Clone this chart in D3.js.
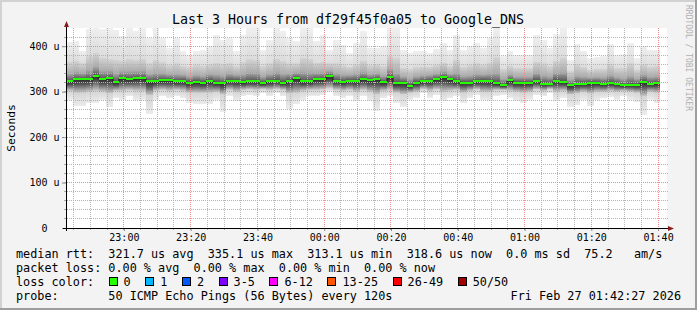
<!DOCTYPE html>
<html>
<head>
<meta charset="utf-8">
<script src="https://cdn.jsdelivr.net/npm/d3@7/dist/d3.min.js"></script>
<style>
html, body { margin: 0; padding: 0; background: #f3f3f3; overflow: hidden; }
svg { display: block; }
text { font-family: "DejaVu Sans Mono", monospace; fill: #000; }
</style>
</head>
<body>
<div id="chart"></div>
<script>
// one value per 120 s step, in microseconds
var medianRtt = [322.7, 327.1, 327.1, 327.1, 335.1, 327.1, 329.3, 320.5, 329.3, 327.1, 329.3, 329.3, 322.7, 322.7, 324.9, 324.9, 322.7, 324.2, 319.8, 322.0, 319.8, 324.2, 319.8,
    318.3, 324.2, 324.2, 320.5, 322.7, 322.7, 318.3, 322.7, 324.2, 319.8, 324.2, 329.3, 322.7, 322.7, 327.1, 327.1, 333.7, 324.2, 322.0, 324.2, 324.2, 327.1,
    324.9, 327.1, 320.5, 331.5, 318.3, 319.8, 313.1, 319.8, 322.7, 324.2, 327.1, 331.5, 327.1, 322.7, 319.8, 319.8, 322.7, 324.2, 322.7, 318.3, 313.9, 324.9, 319.8,
    319.8, 319.8, 324.2, 317.6, 317.6, 324.2, 322.0, 313.9, 317.6, 317.6, 319.8, 319.8, 317.6, 319.8, 317.6, 313.9, 315.4, 315.4, 322.0, 317.6, 318.6];
var pingMax = [409, 411, 389, 438, 440, 438, 441, 436, 422, 440, 434, 440, 419, 441, 418, 396, 417, 389, 381, 389, 392, 400, 425,
    414, 418, 389, 425, 441, 441, 392, 414, 440, 433, 418, 411, 441, 440, 411, 425, 392, 414, 403, 385, 407, 433,
    397, 396, 400, 441, 441, 392, 385, 390, 389, 385, 394, 407, 392, 425, 392, 400, 407, 396, 418, 441, 378, 390, 381,
    381, 381, 424, 414, 396, 427, 441, 370, 405, 390, 374, 376, 378, 405, 381, 383, 407, 374, 400, 392, 392];
var pingHi = [365, 368, 362, 378, 385, 375, 372, 370, 368, 372, 370, 372, 362, 370, 365, 358, 362, 356, 354, 358, 356, 360, 364,
    360, 362, 356, 365, 372, 370, 356, 362, 372, 368, 362, 362, 375, 372, 364, 366, 362, 362, 358, 355, 360, 368,
    358, 360, 356, 378, 374, 352, 350, 354, 355, 355, 358, 364, 356, 370, 355, 358, 362, 358, 364, 376, 350, 356, 352,
    352, 352, 366, 362, 356, 368, 375, 345, 360, 355, 348, 350, 350, 360, 352, 352, 362, 348, 360, 355, 356];
var pingLo = [302, 298, 298, 300, 302, 300, 296, 302, 302, 304, 302, 302, 292, 302, 304, 302, 304, 302, 298, 298, 298, 298, 300,
    294, 304, 300, 304, 305, 304, 306, 304, 306, 304, 296, 298, 302, 304, 304, 305, 308, 304, 302, 304, 300, 304,
    300, 294, 302, 304, 298, 294, 298, 300, 306, 302, 305, 300, 302, 304, 298, 302, 305, 300, 300, 304, 304, 302, 300,
    298, 300, 305, 302, 306, 300, 302, 294, 296, 300, 296, 300, 300, 302, 300, 302, 300, 298, 290, 300, 298];
var pingMin = [282, 268, 268, 275, 275, 282, 266, 286, 282, 290, 282, 282, 250, 282, 290, 286, 290, 286, 275, 272, 272, 273, 282,
    255, 290, 279, 290, 293, 290, 297, 290, 297, 290, 261, 272, 282, 290, 290, 293, 301, 290, 286, 290, 279, 290,
    279, 258, 286, 290, 275, 266, 282, 286, 297, 286, 293, 279, 286, 290, 275, 286, 293, 282, 279, 290, 293, 286, 280,
    275, 282, 293, 290, 297, 280, 286, 266, 270, 282, 268, 282, 285, 288, 282, 290, 282, 277, 248, 282, 275];

var yTicks = [0, 100, 200, 300, 400];
var lossLabels = ["0", "1", "2", "3-5", "6-12", "13-25", "26-49", "50/50"];
var lossColors = ["#26ff00", "#00b8ff", "#0059ff", "#7e00ff", "#ff00ff", "#ff5500", "#ff0000", "#a10000"];
var legendLines = [
    "median rtt:  321.7 us avg  335.1 us max  313.1 us min  318.6 us now  0.0 ms sd  75.2   am/s",
    "packet loss: 0.00 % avg  0.00 % max  0.00 % min  0.00 % now"
];

var width = 697, height = 310;
var plot = {left: 66, right: 667, top: 28, bottom: 228};

var t0 = new Date(2026, 1, 26, 22, 42, 40),
    t1 = new Date(2026, 1, 27, 1, 42, 40),
    step = 120 * 1000;
var times = medianRtt.map((d, i) => new Date(t0.getTime() + i * step));

var svg = d3.select("#chart").append("svg")
    .attr("width", width)
    .attr("height", height);

// frame
svg.append("rect").attr("width", width).attr("height", height).attr("fill", "#f3f3f3");
svg.append("rect").attr("width", width).attr("height", 2).attr("fill", "#d2d2d2");
svg.append("rect").attr("width", 2).attr("height", height).attr("fill", "#d2d2d2");
svg.append("rect").attr("x", width - 2).attr("width", 2).attr("height", height).attr("fill", "#9e9e9e");
svg.append("rect").attr("y", height - 2).attr("width", width).attr("height", 2).attr("fill", "#9e9e9e");

var x = d3.scaleTime().domain([t0, t1]).range([plot.left, plot.right]);
var y = d3.scaleLinear().domain([0, 440]).range([plot.bottom, plot.top]).clamp(true);

svg.append("rect")
    .attr("x", plot.left).attr("y", plot.top)
    .attr("width", plot.right - plot.left).attr("height", plot.bottom - plot.top)
    .attr("fill", "#fff");

var defs = svg.append("defs");
function grad(id, stops) {
    var g = defs.append("linearGradient").attr("id", id)
        .attr("x1", 0).attr("y1", 0).attr("x2", 0).attr("y2", 1);
    stops.forEach((s) => {
        g.append("stop").attr("offset", s[0]).attr("stop-color", s[1]);
    });
}
grad("tailUp", [[0, "#efefef"], [1, "#dcdcdc"]]);
grad("coreUp", [[0, "#d4d4d4"], [0.6, "#ababab"], [1, "#505050"]]);
grad("coreDown", [[0, "#2a2a2a"], [0.35, "#525252"], [1, "#cacaca"]]);
grad("tailDown", [[0, "#d4d4d4"], [1, "#ececec"]]);

// smoke
var smoke = svg.append("g").attr("shape-rendering", "crispEdges");
var bands = [
    [pingMax, pingHi, "tailUp"],
    [pingHi, medianRtt, "coreUp"],
    [medianRtt, pingLo, "coreDown"],
    [pingLo, pingMin, "tailDown"]
];
times.forEach((t, i) => {
    var x0 = Math.round(x(t)),
        x1 = Math.round(x(new Date(t.getTime() + step)));
    bands.forEach((b) => {
        var top = y(b[0][i]), bot = y(b[1][i]);
        smoke.append("rect")
            .attr("x", x0).attr("y", top)
            .attr("width", x1 - x0).attr("height", Math.max(0, bot - top))
            .attr("fill", "url(#" + b[2] + ")");
    });
});

// grid, on top of the smoke
var grid = svg.append("g");
var minorTimes = x.ticks(d3.timeMinute.every(5)),
    majorTimes = x.ticks(d3.timeMinute.every(20));
var minorVals = d3.range(20, 440, 20);

function hLines(vals, colour) {
    grid.append("g").selectAll("line").data(vals).enter().append("line")
        .attr("x1", plot.left + 1).attr("x2", plot.right + 1)
        .attr("y1", (d) => Math.floor(y(d)) + 0.5).attr("y2", (d) => Math.floor(y(d)) + 0.5)
        .attr("stroke", colour).attr("stroke-dasharray", "1,1");
}
function vLines(vals, colour) {
    grid.append("g").selectAll("line").data(vals).enter().append("line")
        .attr("x1", (d) => Math.floor(x(d)) + 0.5).attr("x2", (d) => Math.floor(x(d)) + 0.5)
        .attr("y1", plot.top).attr("y2", plot.bottom)
        .attr("stroke", colour).attr("stroke-dasharray", "1,1");
}
hLines(minorVals.filter((v) => v % 100 !== 0), "#b4b4b4");
vLines(minorTimes.filter((d) => d.getMinutes() % 20 !== 0), "#b4b4b4");
hLines(yTicks.slice(1), "#ec8c8c");
vLines(majorTimes, "#ec8c8c");

// median: dark step line with green loss-colour bars
var edges = times.map((t) => Math.round(x(t)));
edges.push(Math.round(x(new Date(times[times.length - 1].getTime() + step))));
var medLine = d3.line()
    .x((d, i) => edges[i])
    .y((d) => Math.round(y(d)) + 0.5)
    .curve(d3.curveStepAfter);
svg.append("path")
    .attr("fill", "none")
    .attr("stroke", "#1a1a1a")
    .attr("stroke-width", 1)
    .attr("d", medLine(medianRtt.concat([medianRtt[medianRtt.length - 1]])));
svg.append("g").attr("shape-rendering", "crispEdges")
    .selectAll("rect").data(medianRtt).enter().append("rect")
    .attr("x", (d, i) => edges[i])
    .attr("width", (d, i) => edges[i + 1] - edges[i])
    .attr("y", (d) => Math.round(y(d)) - 1)
    .attr("height", 2)
    .attr("fill", lossColors[0]);

// axes
var xAxis = svg.append("g")
    .attr("transform", "translate(0," + plot.bottom + ")")
    .call(d3.axisBottom(x).ticks(d3.timeMinute.every(20)).tickFormat(d3.timeFormat("%H:%M")).tickSize(3).tickPadding(2.4));
xAxis.select(".domain").remove();
xAxis.selectAll("line").attr("stroke", "#888");
xAxis.selectAll("text").style("font-size", "10px");
svg.append("g").selectAll("line").data(minorTimes).enter().append("line")
    .attr("x1", (d) => Math.floor(x(d)) + 0.5).attr("x2", (d) => Math.floor(x(d)) + 0.5)
    .attr("y1", plot.bottom).attr("y2", plot.bottom + 2)
    .attr("stroke", "#aaa");

var yAxis = svg.append("g")
    .attr("transform", "translate(" + plot.left + ",0)")
    .call(d3.axisLeft(y).tickValues(yTicks).tickFormat((d) => d === 0 ? "0" : d + " u").tickSize(4).tickPadding(2.5));
yAxis.select(".domain").remove();
yAxis.selectAll("line").attr("stroke", "#888");
yAxis.selectAll("text").style("font-size", "10px")
    .attr("dx", (d) => d === 0 ? -12 : 0);
svg.append("g").selectAll("line").data(minorVals).enter().append("line")
    .attr("x1", plot.left - 2).attr("x2", plot.left)
    .attr("y1", (d) => Math.floor(y(d)) + 0.5).attr("y2", (d) => Math.floor(y(d)) + 0.5)
    .attr("stroke", "#aaa");

svg.append("line")
    .attr("x1", plot.left - 3).attr("x2", plot.right + 2)
    .attr("y1", plot.bottom + 0.5).attr("y2", plot.bottom + 0.5)
    .attr("stroke", "#000");
svg.append("line")
    .attr("x1", plot.left + 0.5).attr("x2", plot.left + 0.5)
    .attr("y1", plot.bottom + 3).attr("y2", plot.top - 2)
    .attr("stroke", "#000");
svg.append("path")
    .attr("d", "M" + (plot.right + 1) + "," + (plot.bottom - 2) + "L" + (plot.right + 7) + "," + (plot.bottom + 0.5) + "L" + (plot.right + 1) + "," + (plot.bottom + 3) + "Z")
    .attr("fill", "#8a1c1c");
svg.append("path")
    .attr("d", "M" + (plot.left - 2) + "," + (plot.top - 1) + "L" + (plot.left + 0.5) + "," + (plot.top - 7) + "L" + (plot.left + 3) + "," + (plot.top - 1) + "Z")
    .attr("fill", "#8a1c1c");

// texts
svg.append("text")
    .attr("x", 348).attr("y", 24)
    .attr("text-anchor", "middle")
    .style("font-size", "13.3px")
    .text("Last 3 Hours from df29f45f0a05 to Google_DNS");

svg.append("text")
    .attr("transform", "translate(15," + ((plot.top + plot.bottom) / 2) + ") rotate(-90)")
    .attr("text-anchor", "middle")
    .style("font-size", "11.3px")
    .text("Seconds");

svg.append("text")
    .attr("transform", "translate(685.5,5) rotate(90)")
    .style("font-size", "8px")
    .style("fill", "#b0b0b0")
    .text("RRDTOOL / TOBI OETIKER");

var legendY = [257.7, 271.8, 286, 300];
legendLines.forEach((s, i) => {
    svg.append("text")
        .attr("x", 16).attr("y", legendY[i])
        .attr("xml:space", "preserve")
        .style("white-space", "pre")
        .style("font-size", "11.8px")
        .text(s);
});

svg.append("text")
    .attr("x", 16).attr("y", legendY[2])
    .style("font-size", "11.8px")
    .text("loss color:");
var bx = 108.5;
lossLabels.forEach((lab, i) => {
    svg.append("rect")
        .attr("x", Math.round(bx) + 0.5).attr("y", legendY[2] - 8.5)
        .attr("width", 8).attr("height", 8)
        .attr("fill", lossColors[i])
        .attr("stroke", "#000");
    svg.append("text")
        .attr("x", bx + 15).attr("y", legendY[2])
        .style("font-size", "11.8px")
        .text(lab);
    bx += 15 + 7.1 * lab.length + 14.6;
});

svg.append("text")
    .attr("x", 16).attr("y", legendY[3])
    .attr("xml:space", "preserve")
    .style("white-space", "pre")
    .style("font-size", "11.8px")
    .text("probe:       50 ICMP Echo Pings (56 Bytes) every 120s");
svg.append("text")
    .attr("x", 681).attr("y", legendY[3])
    .attr("text-anchor", "end")
    .style("font-size", "11.8px")
    .text("Fri Feb 27 01:42:27 2026");
</script>
</body>
</html>
